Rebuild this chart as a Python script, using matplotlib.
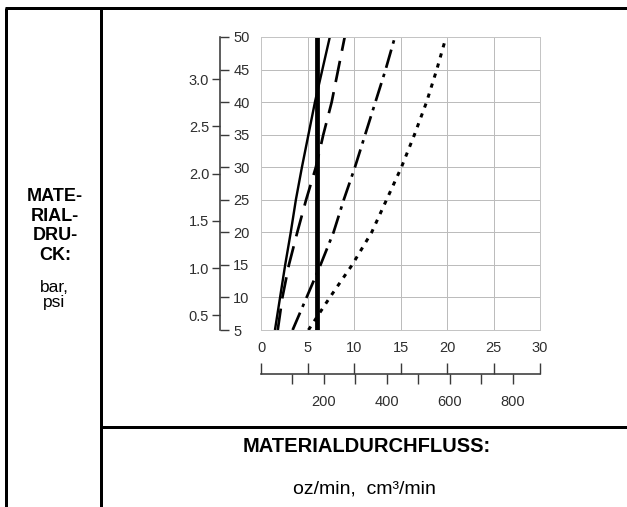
import matplotlib
matplotlib.use("Agg")
import matplotlib.pyplot as plt
from matplotlib.lines import Line2D
from matplotlib.ticker import FixedLocator, FixedFormatter, NullFormatter

plt.rcParams["font.family"] = ["Liberation Sans", "DejaVu Sans"]

# ---------------------------------------------------------------- data
psi = [5, 10, 15, 20, 25, 30, 35, 40, 45, 50]
flow_solid = [1.5, 2.05, 2.6, 3.2, 3.75, 4.4, 5.1, 5.8, 6.6, 7.4]
flow_dashed = [1.8, 2.3, 3.0, 3.9, 4.85, 5.9, 6.7, 7.6, 8.3, 9.0]
flow_dashdot = [3.4, 4.9, 6.4, 7.8, 8.9, 10.1, 11.2, 12.3, 13.4, 14.4]
flow_dotted = [5.1, 7.4, 9.8, 11.9, 13.5, 15.1, 16.5, 17.8, 18.9, 19.9]
psi_thick = [5, 50]
flow_thick = [6.0, 6.0]

psi_ticks = [5, 10, 15, 20, 25, 30, 35, 40, 45, 50]
bar_ticks = [0.5, 1.0, 1.5, 2.0, 2.5, 3.0]
oz_ticks = [0, 5, 10, 15, 20, 25, 30]
cm3_ticks = [100, 200, 300, 400, 500, 600, 700, 800]
cm3_labels = ["", "200", "", "400", "", "600", "", "800"]

PSI_PER_BAR = 14.5038
CM3_PER_OZ = 29.5735

# ---------------------------------------------------------------- figure
W, H, DPI = 627, 507, 100
fig = plt.figure(figsize=(W / DPI, H / DPI), dpi=DPI)
PX = 72.0 / DPI  # points per pixel

def box(x0, y0, x1, y1):
    """Axes rectangle from pixel corners (origin top-left)."""
    return [x0 / W, 1 - y1 / H, (x1 - x0) / W, (y1 - y0) / H]

def fline(xs, ys, lw=3):
    fig.add_artist(Line2D([x / W for x in xs], [1 - y / H for y in ys],
                          color="black", lw=lw * PX, solid_capstyle="butt"))

# table rules
fline([5, 627], [8, 8])
fline([6, 6], [8, 507])
fline([101, 101], [8, 507])
fline([101, 627], [427, 427])

TICK_C = "#2e2e2e"
LBL = 10.5

# main flow chart
ax = fig.add_axes(box(261, 37, 540, 330))
ax.set_xlim(0, 30)
ax.set_ylim(5, 50)
ax.xaxis.set_major_locator(FixedLocator(oz_ticks))
ax.yaxis.set_major_locator(FixedLocator(psi_ticks))
ax.yaxis.set_major_formatter(NullFormatter())
ax.tick_params(axis="both", length=0)
ax.tick_params(axis="x", pad=8, labelsize=LBL, labelcolor=TICK_C)
ax.grid(True, color="#bcbcbc", lw=1.0 * PX)
for s in ax.spines.values():
    s.set_color("#c4c4c4")
    s.set_linewidth(1.0 * PX)

ax.plot(flow_solid, psi, color="black", lw=2.4 * PX, solid_capstyle="butt")
ax.plot(flow_dashed, psi, color="black", lw=2.7 * PX,
        linestyle=(0, (8.0, 3.8)), dash_capstyle="butt")
ax.plot(flow_dashdot, psi, color="black", lw=2.7 * PX,
        linestyle=(0, (7.0, 2.3, 1.3, 2.3)), dash_capstyle="butt")
ax.plot(flow_dotted, psi, color="black", lw=3.0 * PX,
        linestyle=(0, (1.4, 2.1)), dash_capstyle="butt")
ax.plot(flow_thick, psi_thick, color="black", lw=4.8 * PX,
        solid_capstyle="butt", clip_on=False)

# pressure scales: psi to the right of the rule, bar to the left
ax_psi = fig.add_axes(box(200, 37, 220, 330))
ax_psi.set_ylim(5, 50)
ax_psi.patch.set_visible(False)
for k, s in ax_psi.spines.items():
    s.set_visible(k == "right")
ax_psi.spines["right"].set_color("#3a3a3a")
ax_psi.spines["right"].set_linewidth(1.6 * PX)
ax_psi.set_xticks([])
ax_psi.yaxis.tick_right()
ax_psi.yaxis.set_major_locator(FixedLocator(psi_ticks))
ax_psi.yaxis.set_major_formatter(FixedFormatter([str(v) for v in psi_ticks]))
ax_psi.tick_params(axis="y", direction="out", length=9 * PX, width=1.4 * PX,
                   color="#3a3a3a", pad=3, labelsize=LBL, labelcolor=TICK_C)

ax_bar = fig.add_axes(box(220, 37, 240, 330))
ax_bar.set_ylim(5, 50)
ax_bar.patch.set_visible(False)
for k, s in ax_bar.spines.items():
    s.set_visible(False)
ax_bar.set_xticks([])
ax_bar.yaxis.set_major_locator(FixedLocator([b * PSI_PER_BAR for b in bar_ticks]))
ax_bar.yaxis.set_major_formatter(FixedFormatter([f"{b:.1f}" for b in bar_ticks]))
ax_bar.tick_params(axis="y", direction="out", length=8 * PX, width=1.4 * PX,
                   color="#3a3a3a", pad=2, labelsize=LBL, labelcolor=TICK_C)

# flow scale in cm³/min below the oz/min labels
ax_cm = fig.add_axes(box(261, 373, 540, 374))
ax_cm.set_xlim(0, 30)
ax_cm.patch.set_visible(False)
for k, s in ax_cm.spines.items():
    s.set_visible(k == "bottom")
ax_cm.spines["bottom"].set_color("#3a3a3a")
ax_cm.spines["bottom"].set_linewidth(1.6 * PX)
ax_cm.set_yticks([])
ax_cm.xaxis.set_major_locator(FixedLocator(oz_ticks))
ax_cm.xaxis.set_major_formatter(NullFormatter())
ax_cm.xaxis.set_minor_locator(FixedLocator([c / CM3_PER_OZ for c in cm3_ticks]))
ax_cm.xaxis.set_minor_formatter(FixedFormatter(cm3_labels))
ax_cm.tick_params(axis="x", which="major", direction="in", length=11 * PX,
                  width=1.4 * PX, color="#3a3a3a")
ax_cm.tick_params(axis="x", which="minor", direction="out", length=10 * PX,
                  width=1.4 * PX, color="#3a3a3a", pad=8,
                  labelsize=LBL, labelcolor=TICK_C)

# table captions
fig.text(55 / W, 1 - 226 / H, "MATE-\nRIAL-\nDRU-\nCK:", ha="center",
         va="center", fontsize=13, fontweight="bold", linespacing=1.2)
fig.text(54 / W, 1 - 295 / H, "bar,\npsi", ha="center", va="center",
         fontsize=12.5, linespacing=0.95)
fig.text(367 / W, 1 - 447 / H, "MATERIALDURCHFLUSS:", ha="center",
         va="center", fontsize=14.5, fontweight="bold")
fig.text(364 / W, 1 - 489 / H, "oz/min,  cm³/min", ha="center",
         va="center", fontsize=14)

fig.savefig("out.png", dpi=DPI)
